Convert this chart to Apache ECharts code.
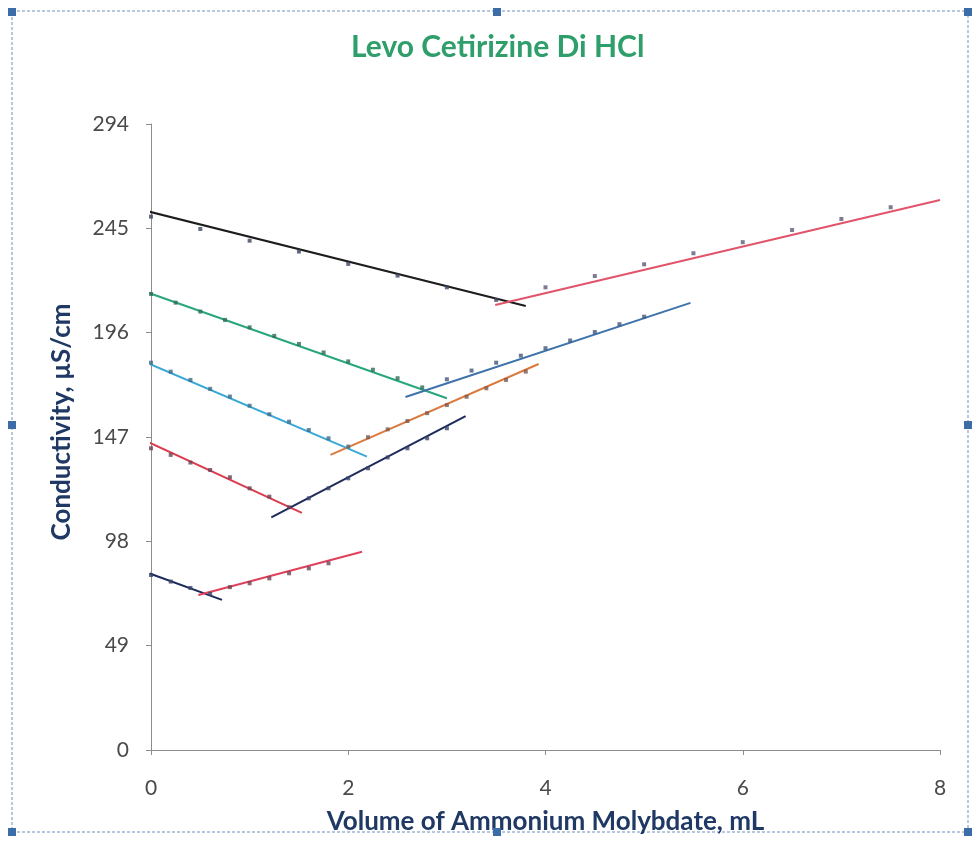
<!DOCTYPE html>
<html>
<head>
<meta charset="utf-8">
<script src="https://cdn.jsdelivr.net/npm/echarts@6/dist/echarts.min.js"></script>
<style>html,body{margin:0;padding:0;background:#fff;}#c{width:973px;height:843px;}</style>
</head>
<body>
<div id="c"></div>
<script>
// ---- data ----
const titleText = 'Levo Cetirizine Di HCl';
const xName = 'Volume of Ammonium Molybdate, mL';
const yName = 'Conductivity, µS/cm';
const yTicks = [0, 49, 98, 147, 196, 245, 294];
const xTicks = [0, 2, 4, 6, 8];

const blackX = [0, 0.5, 1, 1.5, 2, 2.5, 3, 3.5];
const blackY = [250.5, 244.7, 239.2, 234.1, 228.3, 222.8, 217.3, 211.4];
const blackFit = [[-0.12, 254], [3.8, 208.5]];

const redTopX = [4, 4.5, 5, 5.5, 6, 6.5, 7, 7.5];
const redTopY = [217.3, 222.6, 228.1, 233.3, 238.5, 244.2, 249.4, 254.9];
const redTopFit = [[3.49, 209], [8.0, 258.3]];

const greenX = [0, 0.25, 0.5, 0.75, 1, 1.25, 1.5, 1.75, 2, 2.25, 2.5, 2.75];
const greenY = [214.2, 210.1, 205.9, 202.0, 198.5, 194.5, 190.7, 186.7, 182.5, 178.6, 174.6, 170.3];
const greenFit = [[-0.11, 216.1], [3.0, 165.2]];

const blueX = [3.0, 3.25, 3.5, 3.75, 4.0, 4.25, 4.5, 4.75, 5.0];
const blueY = [174.1, 178.2, 181.9, 185.2, 188.7, 192.3, 196.3, 200.0, 203.5];
const blueFit = [[2.58, 165.8], [5.47, 210.0]];

const cyanX = [0, 0.2, 0.4, 0.6, 0.8, 1.0, 1.2, 1.4, 1.6, 1.8, 2.0];
const cyanY = [181.9, 177.7, 173.8, 169.6, 166.0, 161.7, 157.7, 154.2, 150.3, 146.4, 142.5];
const cyanFit = [[-0.11, 183.2], [2.19, 137.8]];

const orangeX = [2.2, 2.4, 2.6, 2.8, 3.0, 3.2, 3.4, 3.6, 3.8];
const orangeY = [146.9, 150.6, 154.5, 158.2, 162.0, 165.9, 169.9, 173.8, 177.7];
const orangeFit = [[1.82, 138.6], [3.93, 181.3]];

const red2X = [0, 0.2, 0.4, 0.6, 0.8, 1.0, 1.2, 1.4];
const red2Y = [141.7, 138.6, 135.0, 131.5, 128.1, 122.9, 119.0, 114.0];
const red2Fit = [[-0.11, 146.4], [1.53, 111.4]];

const navy2X = [1.6, 1.8, 2.0, 2.2, 2.4, 2.6, 2.8, 3.0];
const navy2Y = [118.2, 122.9, 127.6, 132.3, 137.4, 141.7, 146.4, 151.1];
const navy2Fit = [[1.22, 109.3], [3.19, 156.8]];

const navyBotX = [0, 0.2, 0.4, 0.6];
const navyBotY = [82.2, 79.1, 76.1, 73.3];
const navyBotFit = [[-0.11, 84.5], [0.72, 70.5]];

const redBotX = [0.8, 1.0, 1.2, 1.4, 1.6, 1.8];
const redBotY = [76.5, 78.3, 80.6, 83.0, 85.3, 87.7];
const redBotFit = [[0.48, 72.8], [2.14, 93.1]];

// ---- build ----
const groups = [
  {x: blackX, y: blackY, fit: blackFit, line: '#1c1c1c', mark: '#3b4660'},
  {x: redTopX, y: redTopY, fit: redTopFit, line: '#e2546a', mark: '#5a5a78'},
  {x: greenX, y: greenY, fit: greenFit, line: '#2aa77a', mark: '#2f6a5a'},
  {x: blueX, y: blueY, fit: blueFit, line: '#3f72aa', mark: '#42587a'},
  {x: cyanX, y: cyanY, fit: cyanFit, line: '#3aa8d6', mark: '#3f6a88'},
  {x: orangeX, y: orangeY, fit: orangeFit, line: '#dc7a3e', mark: '#7a5a50'},
  {x: red2X, y: red2Y, fit: red2Fit, line: '#dc3c50', mark: '#6a4456'},
  {x: navy2X, y: navy2Y, fit: navy2Fit, line: '#1d2a5c', mark: '#3a4466'},
  {x: navyBotX, y: navyBotY, fit: navyBotFit, line: '#1d2a5c', mark: '#3a4466'},
  {x: redBotX, y: redBotY, fit: redBotFit, line: '#e0405a', mark: '#6a4456'}
];
const series = [];
groups.forEach(g => {
  series.push({
    type: 'line', data: g.fit, showSymbol: false, symbol: 'none', clip: false,
    lineStyle: {color: g.line, width: 2}, silent: true, z: 2
  });
  series.push({
    type: 'scatter', data: g.x.map((v, i) => [v, g.y[i]]), symbol: 'rect', symbolSize: 4,
    itemStyle: {color: g.mark}, clip: false, z: 3
  });
});

const handles = [[12,12],[497,12],[968,12],[12,425],[968,425],[12,832],[497,832],[968,832]];
const graphic = [{
  type: 'rect', shape: {x: 12, y: 11, width: 956, height: 821},
  style: {fill: 'none', stroke: '#6f8fbf', lineWidth: 1, lineDash: [3, 2]}, z: -1
}].concat(handles.map(h => ({
  type: 'rect', shape: {x: h[0] - 4, y: h[1] - 4, width: 8, height: 8},
  style: {fill: '#3d6da8'}, z: 10
})));

const chart = echarts.init(document.getElementById('c'));
chart.setOption({
  animation: false,
  backgroundColor: '#ffffff',
  title: {
    text: titleText, left: 346, top: 27,
    textStyle: {color: '#2e9e6a', fontFamily: 'Lato', fontWeight: 'bold', fontSize: 30}
  },
  grid: {left: 151, right: 33, top: 124, bottom: 93, containLabel: false},
  xAxis: {
    type: 'value', min: xTicks[0], max: xTicks[xTicks.length - 1], interval: 2,
    name: xName, nameLocation: 'middle', nameGap: 59,
    nameTextStyle: {color: '#1f3864', fontFamily: 'Lato', fontWeight: 'bold', fontSize: 26},
    axisLine: {show: true, lineStyle: {color: '#8c8c8c', width: 1}},
    axisTick: {show: true, length: 5, lineStyle: {color: '#8c8c8c'}},
    axisLabel: {color: '#4a4a4a', fontFamily: 'Lato', fontSize: 21, margin: 28},
    splitLine: {show: false}
  },
  yAxis: {
    type: 'value', min: yTicks[0], max: yTicks[yTicks.length - 1], interval: 49,
    name: yName, nameLocation: 'middle', nameGap: 76,
    nameTextStyle: {color: '#1f3864', fontFamily: 'Lato', fontWeight: 'bold', fontSize: 26, padding: [0, 0, 0, 30]},
    axisLine: {show: true, lineStyle: {color: '#8c8c8c', width: 1}},
    axisTick: {show: true, length: 5, lineStyle: {color: '#8c8c8c'}},
    axisLabel: {color: '#4a4a4a', fontFamily: 'Lato', fontSize: 21, margin: 22},
    splitLine: {show: false}
  },
  graphic: graphic,
  series: series
});
</script>
</body>
</html>
